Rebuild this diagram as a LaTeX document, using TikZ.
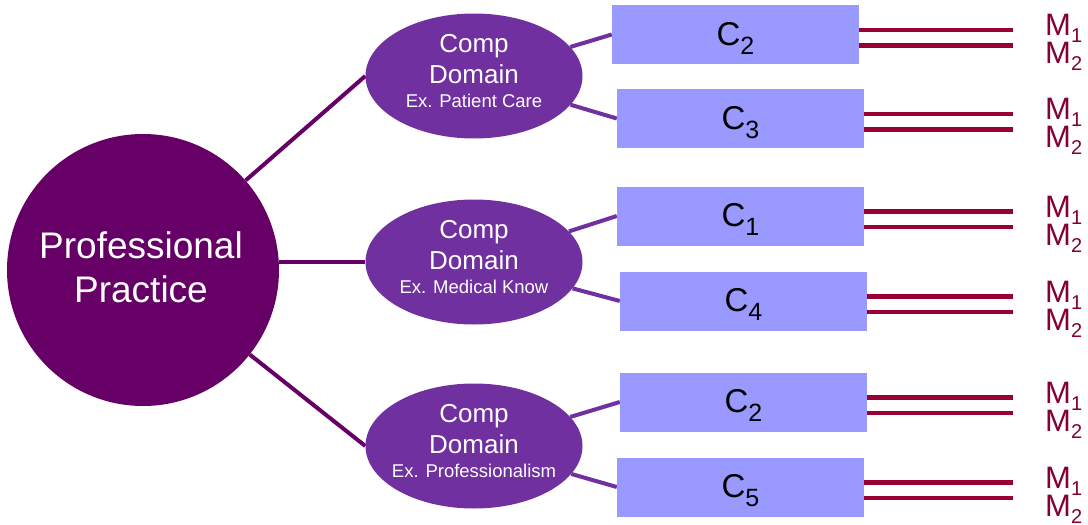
\documentclass[tikz,border=0pt]{standalone}
\usepackage{fontspec}
\setmainfont{Liberation Sans}
\usetikzlibrary{shapes.geometric,calc}
\definecolor{ppcol}{HTML}{660066}
\definecolor{domcol}{HTML}{7030A0}
\definecolor{compcol}{HTML}{9999FF}
\definecolor{mcol}{HTML}{990033}
\definecolor{mtext}{HTML}{820033}
\pgfdeclarelayer{bg}
\pgfsetlayers{bg,main}
\newcommand{\Csub}[1]{C\raisebox{-9pt}{\fontsize{25}{25}\selectfont #1}}
\newcommand{\Msub}[1]{M\raisebox{-7pt}{\fontsize{20}{20}\selectfont #1}}
\begin{document}
\begin{tikzpicture}[x=1pt,y=-1pt,
  ppnode/.style={circle, fill=ppcol, minimum size=272pt, inner sep=0pt},
  pptext/.style={anchor=base, inner sep=0pt, text=white, font=\fontsize{37}{37}\selectfont},
  domnode/.style={ellipse, fill=domcol, minimum width=217pt, minimum height=125pt, inner sep=0pt},
  domtext/.style={anchor=base, inner sep=0pt, text=white, font=\fontsize{26}{26}\selectfont},
  domsmall/.style={anchor=base, inner sep=0pt, text=white, font=\fontsize{18.5}{18.5}\selectfont},
  compnode/.style={rectangle, fill=compcol, minimum width=247pt, minimum height=59pt, inner sep=0pt,
    text height=21pt, text depth=0pt, font=\fontsize{33}{33}\selectfont},
  mlab/.style={anchor=base west, inner sep=0pt, text=mtext, font=\fontsize{31}{31}\selectfont},
  ppline/.style={draw=ppcol, line width=4pt},
  domline/.style={draw=domcol, line width=4pt},
  mline/.style={draw=mcol, line width=4.5pt}
]
\useasboundingbox (0,0) rectangle (1088,525);
\coordinate (mend) at (1013,0);

% central circle
\node[ppnode] (pp) at (143,270) {};
\node[pptext] (pt1) at (141,258) {Professional};
\node[pptext] (pt2) at (141,302) {Practice};

% domains
\foreach \n/\y/\ex in {1/76/Ex. Patient Care, 2/262/Ex. Medical Know, 3/446/Ex. Professionalism}{
  \node[domnode] (d\n) at (474,\y) {};
  \node[domtext] (d\n a) at ($(d\n)+(0,-24)$) {Comp};
  \node[domtext] (d\n b) at ($(d\n)+(0,7)$) {Domain};
  \node[domsmall] (d\n c) at ($(d\n)+(0,31)$) {\ex};
}

% competencies
\node[compnode] (r1) at (735.5,34.5) {\Csub{2}};
\node[compnode] (r2) at (740.5,118.5) {\Csub{3}};
\node[compnode] (r3) at (740.5,216) {\Csub{1}};
\node[compnode] (r4) at (743.5,301) {\Csub{4}};
\node[compnode] (r5) at (743.5,402) {\Csub{2}};
\node[compnode] (r6) at (740.5,487) {\Csub{5}};

% milestones
\foreach \r in {1,...,6}{
  \node[mlab] (m\r a) at ($(mend |- r\r.east)+(32,1)$) {\Msub{1}};
  \node[mlab] (m\r b) at ($(mend |- r\r.east)+(32,29)$) {\Msub{2}};
  \draw[mline] ($(r\r.east)+(0,-4.5)$) -- ($(mend |- r\r.east)+(0,-4.5)$);
  \draw[mline] ($(r\r.east)+(0,11)$) -- ($(mend |- r\r.east)+(0,11)$);
}

\begin{pgfonlayer}{bg}
  \draw[ppline] (pp) -- (d1.west);
  \draw[ppline] (d2.west) -- (pp.east |- d2.west);
  \draw[ppline] (pp) -- (d3.west);
  \draw[domline] (d1) -- (r1.west);
  \draw[domline] (d1) -- (r2.west);
  \draw[domline] (d2) -- (r3.west);
  \draw[domline] (d2) -- (r4.west);
  \draw[domline] (d3) -- (r5.west);
  \draw[domline] (d3) -- (r6.west);
\end{pgfonlayer}
\end{tikzpicture}
\end{document}
